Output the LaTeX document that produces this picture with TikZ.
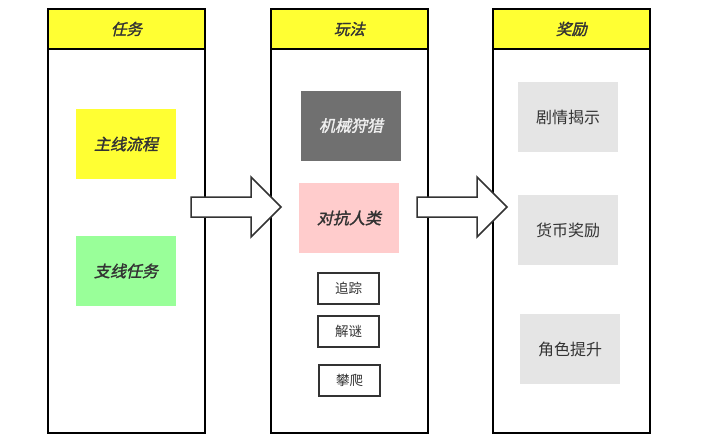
\documentclass[tikz,border=0pt]{standalone}
\usepackage{fontspec}
\newfontfamily\cjk{Noto Sans CJK SC}
\newfontfamily\cjkbi[FakeSlant=0.22,FakeBold=1.6]{Noto Sans CJK SC}
\definecolor{hdryellow}{HTML}{FFFF33}
\definecolor{boxyellow}{HTML}{FFFF33}
\definecolor{boxgreen}{HTML}{99FF99}
\definecolor{boxgray}{HTML}{707070}
\definecolor{boxpink}{HTML}{FFCCCC}
\definecolor{boxlight}{HTML}{E5E5E5}
\definecolor{txt}{HTML}{333333}
\definecolor{edge}{HTML}{333333}
\tikzset{
  column/.style={draw=black, line width=1.8pt, fill=white, minimum width=157pt, minimum height=424pt, inner sep=0pt},
  header/.style={draw=black, line width=1.8pt, fill=hdryellow, minimum width=157pt, minimum height=40pt, inner sep=0pt, font=\cjkbi\fontsize{15.5}{15.5}\selectfont, text=txt},
  bigbox/.style={minimum width=100pt, minimum height=70pt, inner sep=0pt, font=\cjkbi\fontsize{16}{16}\selectfont, text=txt},
  rewbox/.style={fill=boxlight, minimum width=100pt, minimum height=70pt, inner sep=0pt, font=\cjk\fontsize{16}{16}\selectfont, text=txt},
  smallbox/.style={draw=edge, line width=1.5pt, fill=white, minimum width=61pt, minimum height=31pt, inner sep=0pt, font=\cjk\fontsize{13.5}{13.5}\selectfont, text=txt},
  blockarrow/.style={draw=edge, line width=1.5pt, fill=white, line join=miter}
}
\begin{document}
\begin{tikzpicture}[x=1pt,y=-1pt]
\useasboundingbox (0,0) rectangle (712,436);
% columns
\node[column] (col1) at (126.5,221) {};
\node[column] (col2) at (349.5,221) {};
\node[column] (col3) at (571.5,221) {};
\node[header] (h1) at (126.5,29) {任务};
\node[header] (h2) at (349.5,29) {玩法};
\node[header] (h3) at (571.5,29) {奖励};
% column 1
\node[bigbox, fill=boxyellow] (main) at (126,144) {主线流程};
\node[bigbox, fill=boxgreen] (side) at (126,271) {支线任务};
% column 2
\node[bigbox, fill=boxgray, text=white!94!black] (hunt) at (351,125.5) {机械狩猎};
\node[bigbox, fill=boxpink] (fight) at (349,218) {对抗人类};
\node[smallbox] (track) at (348.5,288.5) {追踪};
\node[smallbox] (puzzle) at (348.5,331.5) {解谜};
\node[smallbox] (climb) at (349.5,380.5) {攀爬};
% column 3
\node[rewbox] (story) at (568,117) {剧情揭示};
\node[rewbox] (coin) at (568,230) {货币奖励};
\node[rewbox] (level) at (570,349) {角色提升};
% arrows
\coordinate (a1s) at (191,207);
\coordinate (a1t) at (281,207);
\coordinate (a2s) at (417,207);
\coordinate (a2t) at (507,207);
\draw[blockarrow] ([yshift=-10pt]a1s) -- ([xshift=-30pt,yshift=-10pt]a1t) -- ([xshift=-30pt,yshift=-30pt]a1t) -- (a1t)
  -- ([xshift=-30pt,yshift=30pt]a1t) -- ([xshift=-30pt,yshift=10pt]a1t) -- ([yshift=10pt]a1s) -- cycle;
\draw[blockarrow] ([yshift=-10pt]a2s) -- ([xshift=-30pt,yshift=-10pt]a2t) -- ([xshift=-30pt,yshift=-30pt]a2t) -- (a2t)
  -- ([xshift=-30pt,yshift=30pt]a2t) -- ([xshift=-30pt,yshift=10pt]a2t) -- ([yshift=10pt]a2s) -- cycle;
\end{tikzpicture}
\end{document}
